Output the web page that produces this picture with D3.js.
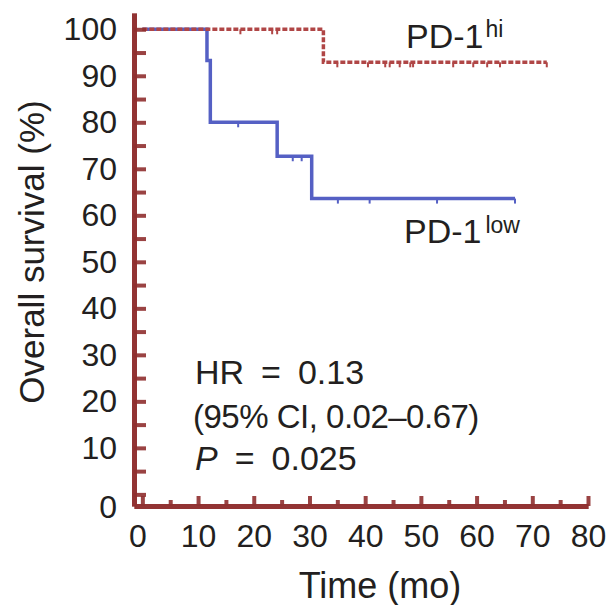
<!DOCTYPE html>
<html>
<head>
<meta charset="utf-8">
<script src="https://cdn.jsdelivr.net/npm/d3@7"></script>
<style>
  body { margin: 0; background: #fff; }
  text { font-family: "Liberation Sans", Arial, sans-serif; fill: #231f20; }
</style>
</head>
<body>
<svg id="km" width="608" height="605"></svg>
<script>
// Kaplan-Meier curves
var hiTimes = [0, 32.5, 72.6],
    hiSurv = [100, 92.9, 92.9],
    hiCensor = [17.6, 23.3, 24.2, 35.0, 40.5, 43.6, 44.4, 46.2, 48.1, 48.6, 55.8, 59.4, 61.9, 64.2, 72.6];

var lowTimes = [0, 11.6, 12.2, 24.2, 30.4, 66.9],
    lowSurv = [100, 93.3, 80, 72.7, 63.6, 63.6],
    lowCensor = [17.2, 27.0, 28.6, 35.1, 40.8, 52.9, 66.9];

var xTicks = [0, 10, 20, 30, 40, 50, 60, 70, 80],
    xMinor = [5, 15, 25, 35, 45, 55, 65, 75],
    yTicks = [0, 10, 20, 30, 40, 50, 60, 70, 80, 90, 100],
    yMinor = [5, 15, 25, 35, 45, 55, 65, 75, 85, 95];

var statLines = ["HR\u2002=\u20020.13", "(95% CI, 0.02\u20130.67)", "\u2002=\u20020.025"];

var axisColor = "#8f2f2f",
    hiColor = "#b04646",
    lowColor = "#5560c4";

var svg = d3.select("#km");

var x = d3.scaleLinear().domain([-1.5, 80]).range([134, 588]),
    y = d3.scaleLinear().domain([-2.5, 103.5]).range([506, 13]);

function survAt(times, surv, t) {
    var s = surv[0];
    for (var i = 0; i < times.length; i++) {
        if (times[i] <= t) s = surv[i];
    }
    return s;
}

var step = d3.line()
    .curve(d3.curveStepAfter)
    .x(function (d) { return x(d[0]); })
    .y(function (d) { return y(d[1]); });

function drawCurve(times, surv, censor, color, dash) {
    var pts = times.map(function (t, i) { return [t, surv[i]]; });
    svg.append("path")
        .datum(pts)
        .attr("fill", "none")
        .attr("stroke", color)
        .attr("stroke-width", 3.5)
        .attr("stroke-dasharray", dash)
        .attr("d", step);

    svg.selectAll(null)
        .data(censor)
        .enter().append("line")
        .attr("x1", function (d) { return x(d); })
        .attr("x2", function (d) { return x(d); })
        .attr("y1", function (d) { return y(survAt(times, surv, d)); })
        .attr("y2", function (d) { return y(survAt(times, surv, d)) + 5; })
        .attr("stroke", color)
        .attr("stroke-width", 2);
}

drawCurve(lowTimes, lowSurv, lowCensor, lowColor, null);
drawCurve(hiTimes, hiSurv, hiCensor, hiColor, "5,2");

// axes, ticks pointing inward
var xAxis = d3.axisBottom(x).tickValues(xTicks).tickSizeInner(-10).tickSizeOuter(0).tickPadding(18),
    xAxisMinor = d3.axisBottom(x).tickValues(xMinor).tickSizeInner(-6).tickSizeOuter(0).tickFormat(""),
    yAxis = d3.axisLeft(y).tickValues(yTicks).tickSizeInner(-12).tickSizeOuter(0).tickPadding(17),
    yAxisMinor = d3.axisLeft(y).tickValues(yMinor).tickSizeInner(-12).tickSizeOuter(0).tickFormat("");

function styleAxis(g) {
    g.select(".domain").attr("stroke", axisColor).attr("stroke-width", 5).attr("stroke-opacity", 0.85);
    g.selectAll(".tick line").attr("stroke", axisColor).attr("stroke-width", 4).attr("stroke-opacity", 0.9);
    g.selectAll(".tick text").attr("fill", "#231f20").style("font-size", "32px");
}

svg.append("g").attr("transform", "translate(0," + y(-2.5) + ")").call(xAxisMinor).call(styleAxis);
var gx = svg.append("g").attr("transform", "translate(0," + y(-2.5) + ")").call(xAxis).call(styleAxis);
svg.append("g").attr("transform", "translate(" + x(-1.5) + ",0)").call(yAxisMinor).call(styleAxis);
var gy = svg.append("g").attr("transform", "translate(" + x(-1.5) + ",0)").call(yAxis).call(styleAxis);

gx.selectAll(".tick text").filter(function (d) { return d === 0; }).attr("dx", -5);
gy.selectAll(".tick text").filter(function (d) { return d === 0; }).attr("dy", "0.72em");

// axis titles
svg.append("text")
    .attr("x", 380).attr("y", 598)
    .attr("text-anchor", "middle")
    .style("font-size", "36px")
    .text("Time (mo)");

svg.append("text")
    .attr("transform", "translate(44,252) rotate(-90)")
    .attr("text-anchor", "middle")
    .style("font-size", "35px")
    .text("Overall survival (%)");

// group labels
var hiLabel = svg.append("text").attr("x", 406).attr("y", 48).style("font-size", "34px");
hiLabel.append("tspan").text("PD-1");
hiLabel.append("tspan").attr("dx", 2).attr("dy", -11).style("font-size", "23px").text("hi");

var lowLabel = svg.append("text").attr("x", 404).attr("y", 243).style("font-size", "34px");
lowLabel.append("tspan").text("PD-1");
lowLabel.append("tspan").attr("dx", 4).attr("dy", -10).style("font-size", "23px").text("low");

// statistics
var stats = svg.append("g").style("font-size", "34px");
stats.append("text").attr("x", 195).attr("y", 384).text(statLines[0]);
stats.append("text").attr("x", 193).attr("y", 428).style("font-size", "33px").style("letter-spacing", "-0.5px").text(statLines[1]);
var pLine = stats.append("text").attr("x", 195).attr("y", 470);
pLine.append("tspan").style("font-style", "italic").text("P");
pLine.append("tspan").text(statLines[2]);
</script>
</body>
</html>
